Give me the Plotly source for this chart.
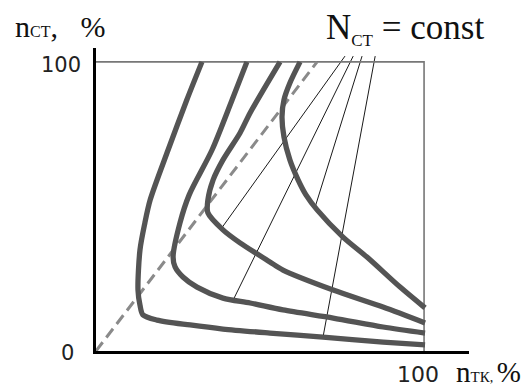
import plotly.graph_objects as go

# ---- data (percent units) ----
c1_x = [32.3, 27.7, 22.0, 16.5, 14.9, 13.4, 12.8, 13.4, 14.3, 18.6, 28.7, 38.7, 53.0, 69.2, 87.5, 100.3]
c1_y = [100, 86.9, 69.6, 52.2, 44.3, 34.9, 21.1, 15.9, 12.5, 10.7, 9.0, 7.6, 6.2, 4.8, 3.1, 2.1]

c2_x = [46.0, 41.5, 35.4, 28.4, 25.6, 23.5, 24.1, 26.5, 30.8, 38.7, 47.0, 57.0, 72.3, 87.5, 100.3]
c2_y = [100, 86.9, 69.6, 54.0, 44.3, 32.5, 29.1, 25.6, 22.1, 18.3, 16.6, 14.2, 11.4, 8.3, 6.2]

c3_x = [56.1, 47.0, 43.9, 38.7, 35.7, 34.1, 34.1, 38.7, 43.9, 53.0, 57.0, 72.3, 87.5, 100.3]
c3_y = [100, 82.4, 75.4, 66.1, 59.2, 52.2, 47.8, 41.9, 37.4, 30.8, 28.0, 21.1, 15.2, 9.7]

c4_x = [62.2, 59.1, 57.3, 56.7, 57.3, 59.1, 61.6, 64.0, 67.4, 75.3, 82.6, 92.7, 100.3]
c4_y = [100, 92.7, 86.9, 81.0, 74.0, 66.1, 59.2, 54.0, 48.8, 39.4, 32.5, 22.1, 14.9]

diag_x = [0, 67.4]
diag_y = [0, 100]

# N_CT = const rays: start (top) and end points
ray_x0 = [75.9, 78.4, 81.1, 85.1]
ray_y0 = [102.0, 102.0, 102.0, 102.0]
ray_x1 = [38.1, 42.1, 66.8, 69.2]
ray_y1 = [42.2, 18.3, 49.8, 4.8]

box_x = [0, 100, 100]
box_y = [100, 100, 0]

y_tick_vals = [0, 100]
y_tick_text = ["0", "100"]
x_tick_vals = [100]
x_tick_text = ["100"]

fig = go.Figure()

CURVE = "#545454"

# rays (thin)
for xa, ya, xb, yb in zip(ray_x0, ray_y0, ray_x1, ray_y1):
    fig.add_trace(go.Scatter(x=[xa, xb], y=[ya, yb], mode="lines",
                             line=dict(color="#1a1a1a", width=1), cliponaxis=False,
                             hoverinfo="skip", showlegend=False))

# box top/right
fig.add_trace(go.Scatter(x=box_x, y=box_y, mode="lines",
                         line=dict(color="#777777", width=1.6), cliponaxis=False,
                         hoverinfo="skip", showlegend=False))

# dashed diagonal
fig.add_trace(go.Scatter(x=diag_x, y=diag_y, mode="lines",
                         line=dict(color="#8a8a8a", width=3, dash="11px,6px"),
                         hoverinfo="skip", showlegend=False))

for cx, cy in [(c1_x, c1_y), (c2_x, c2_y), (c3_x, c3_y), (c4_x, c4_y)]:
    fig.add_trace(go.Scatter(x=cx, y=cy, mode="lines",
                             line=dict(color=CURVE, width=5.3, shape="spline", smoothing=0.8),
                             cliponaxis=False, hoverinfo="skip", showlegend=False))

# geometry (page has an 8px body margin, so the figure is offset by 8px)
OFF = 8
W, H = 532 - OFF, 391 - OFF
L, T = 96 - OFF, 48 - OFF
pw, ph = 373, 303
R, B = W - L - pw, H - T - ph

X0, Y0 = 96, 351  # reference pixel of the origin


def px(xp):
    return (xp - X0) / pw


def py(yp):
    return (Y0 - yp) / ph


NUM_FONT = dict(family="DejaVu Sans", size=21, color="#222222")
SERIF = "Liberation Serif"

ann = []
# y tick labels
ann.append(dict(x=0, y=y_tick_vals[1], xref="x", yref="y", text=y_tick_text[1],
                xanchor="right", yanchor="middle", xshift=-13, yshift=-3,
                showarrow=False, font=NUM_FONT))
ann.append(dict(x=0, y=y_tick_vals[0], xref="x", yref="y", text=y_tick_text[0],
                xanchor="center", yanchor="middle", xshift=-29, yshift=-2,
                showarrow=False, font=NUM_FONT))
# x tick label
ann.append(dict(x=x_tick_vals[0], y=0, xref="x", yref="y", text=x_tick_text[0],
                xanchor="center", yanchor="middle", xshift=-6, yshift=-23,
                showarrow=False, font=dict(family="DejaVu Sans", size=22, color="#222222")))
# axis titles
ann.append(dict(x=px(13), y=py(27), xref="paper", yref="paper",
                text='n<span style="font-size:16px">СТ</span>,&nbsp;&nbsp; %',
                xanchor="left", yanchor="middle", showarrow=False,
                font=dict(family=SERIF, size=30, color="#111111")))
ann.append(dict(x=px(454), y=py(372), xref="paper", yref="paper",
                text='n<span style="font-size:15px">ТК</span><span style="font-size:14px">, </span>%',
                xanchor="left", yanchor="middle", showarrow=False,
                font=dict(family=SERIF, size=29, color="#111111")))
ann.append(dict(x=px(324), y=py(29), xref="paper", yref="paper",
                text='N<sub><span style="font-size:17px">СТ</span></sub>&nbsp;= const',
                xanchor="left", yanchor="middle", showarrow=False,
                font=dict(family=SERIF, size=35, color="#111111")))

fig.update_layout(
    width=W, height=H,
    margin=dict(l=L, r=R, t=T, b=B, pad=0),
    paper_bgcolor="white", plot_bgcolor="white",
    annotations=ann,
    showlegend=False,
    xaxis=dict(range=[0, 113.7], showgrid=False, zeroline=False, showticklabels=False,
               ticks="", showline=True, linecolor="black", linewidth=3, fixedrange=True),
    yaxis=dict(range=[0, 104.8], showgrid=False, zeroline=False, showticklabels=False,
               ticks="", showline=True, linecolor="black", linewidth=3, fixedrange=True),
)

fig.write_html("out.html")
